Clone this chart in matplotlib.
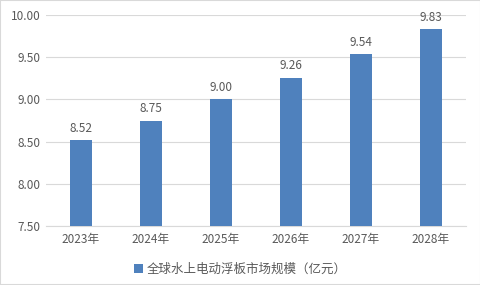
import matplotlib.pyplot as plt
from matplotlib.patches import Rectangle

plt.rcParams['font.family'] = ['Noto Sans CJK SC', 'DejaVu Sans']

years = ['2023年', '2024年', '2025年', '2026年', '2027年', '2028年']
values = [8.52, 8.75, 9.00, 9.26, 9.54, 9.83]
series_name = '全球水上电动浮板市场规模（亿元）'
yticks = [7.5, 8.0, 8.5, 9.0, 9.5, 10.0]

bar_color = '#4F81BD'
text_color = '#595959'

fig = plt.figure(figsize=(4.81, 2.85), dpi=100)
fig.patches.append(Rectangle((0, 0), 1, 1, transform=fig.transFigure,
                             fill=False, edgecolor='#D9D9D9', linewidth=1.5))
ax = fig.add_axes([0.0956, 0.207, 0.873, 0.74])

x = range(len(years))
bars = ax.bar(x, values, width=0.31, color=bar_color, label=series_name, zorder=3)

for xi, v in zip(x, values):
    ax.text(xi, v + 0.06, f'{v:.2f}', ha='center', va='bottom',
            fontsize=8.5, color=text_color)

ax.set_xlim(-0.5, len(years) - 0.5)
ax.set_ylim(7.5, 10.0)
ax.set_yticks(yticks)
ax.set_yticklabels([f'{t:.2f}' for t in yticks])
ax.set_xticks(list(x))
ax.set_xticklabels(years)
ax.tick_params(axis='both', length=0, labelsize=8.5, labelcolor=text_color)
ax.tick_params(axis='x', pad=5)
ax.tick_params(axis='y', pad=4)
ax.yaxis.grid(True, color='#D9D9D9', linewidth=0.8, zorder=0)
for s in ['top', 'right', 'left']:
    ax.spines[s].set_visible(False)
ax.spines['bottom'].set_color('#D9D9D9')

leg = fig.legend(handles=[bars], labels=[series_name], loc='center',
                 bbox_to_anchor=(0.5, 0.055), frameon=False, fontsize=9,
                 handlelength=0.7, handleheight=0.7, handletextpad=0.3)
for t in leg.get_texts():
    t.set_color(text_color)

fig.savefig('out.png', dpi=100)
